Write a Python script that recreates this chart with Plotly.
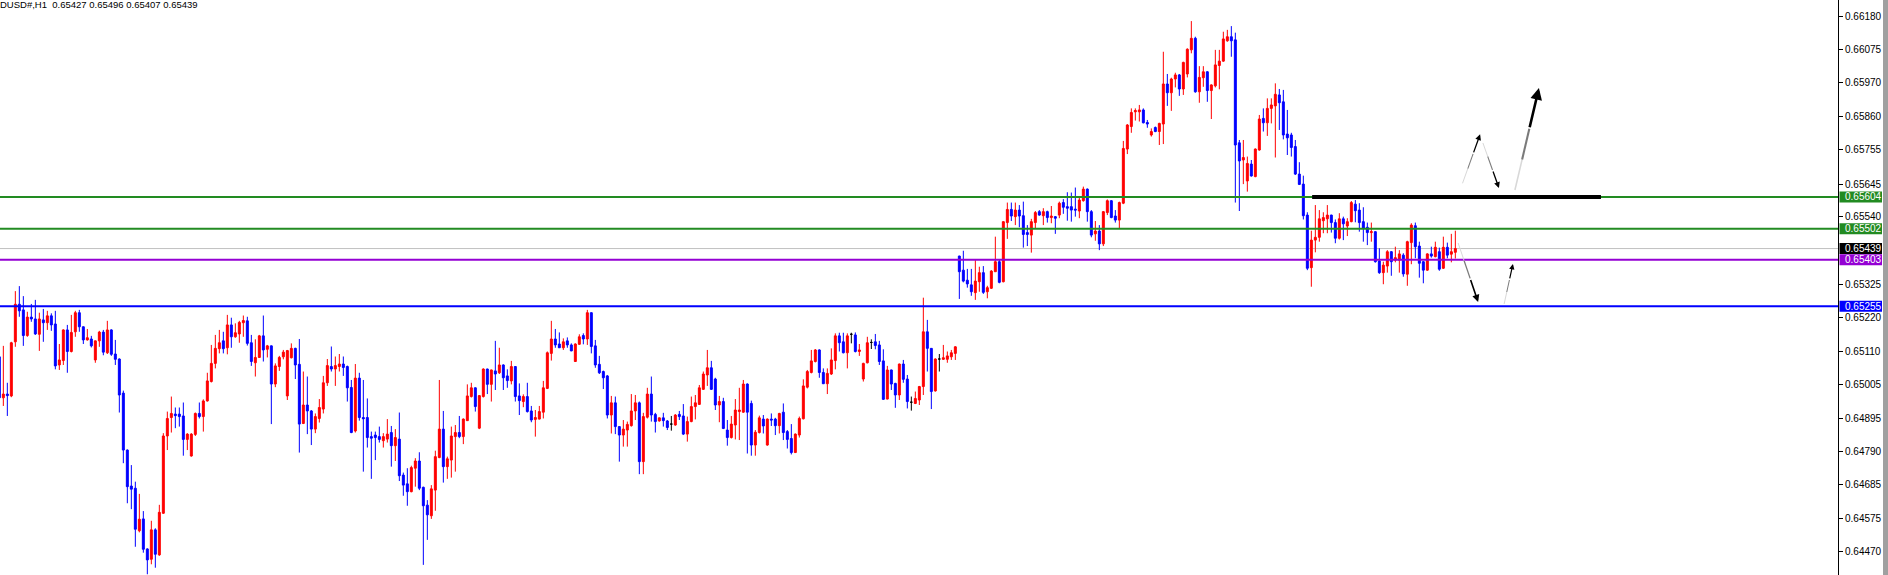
import plotly.graph_objects as go

# ---- OHLC data (prices in points, 1 point = 0.00001) ----
open_pts = [65093,64962,64974,64968,65141,65261,65243,65161,65220,65214,65165,65211,65202,65224,65198,65067,65081,65179,65110,65173,
65234,65189,65147,65150,65083,65144,65172,65106,65179,65102,65086,64977,64795,64680,64673,64537,64575,64479,64446,64540,
64460,64593,64840,64899,64910,64910,64904,64829,64776,64845,64912,64902,64952,65014,65072,65119,65144,65122,65195,65157,
65166,65202,65208,65138,65074,65091,65160,65117,65128,65006,65062,65093,64968,65090,65120,65069,64880,64939,64920,64862,
64896,64926,65010,65062,65054,65062,65070,65062,64995,64856,65025,64899,64899,64838,64843,64838,64825,64830,64851,64809,
64830,64715,64687,64662,64737,64760,64676,64619,64585,64667,64771,64862,64742,64763,64838,64851,64838,64889,64966,64994,
64865,64966,65054,65005,65048,65042,65067,65032,65016,65062,64968,64950,64966,64920,64893,64894,64916,64992,65104,65150,
65134,65122,65144,65131,65078,65133,65161,65150,65234,65128,65069,65046,65032,64907,64946,64870,64843,64859,64873,64920,
64946,64758,64900,64974,64909,64888,64898,64888,64878,64875,64909,64904,64846,64886,64934,64941,64989,65035,65058,65022,
64939,64950,64859,64835,64875,64918,64916,65006,64944,64811,64851,64894,64811,64894,64894,64873,64916,64854,64832,64787,
64843,64895,64996,65043,65078,65115,65043,65007,65038,65081,65160,65141,65106,65165,65163,65110,65022,65074,65139,65141,
65131,65080,64958,65051,65008,64971,65070,65022,64948,64944,64955,64998,65173,65120,64984,65086,65085,65085,65093,65104,
65415,65370,65338,65323,65298,65333,65362,65301,65312,65365,65397,65333,65522,65564,65541,65562,65544,65490,65482,65522,
65557,65544,65557,65538,65541,65546,65586,65573,65573,65565,65559,65592,65629,65557,65486,65495,65454,65554,65592,65543,
65530,65584,65757,65829,65876,65876,65882,65842,65802,65826,65813,65837,65965,65937,65981,65994,65949,65997,66074,66111,
65940,65985,66004,65944,65959,66024,66038,66103,66116,66106,65777,65722,65655,65709,65669,65754,65855,65841,65887,65895,
65930,65908,65805,65802,65765,65677,65645,65546,65378,65466,65475,65528,65534,65546,65522,65472,65534,65511,65525,65581,
65562,65525,65507,65490,65493,65399,65362,65383,65429,65402,65402,65418,65357,65458,65512,65447,65397,65370,65422,65413,
65429,65376,65443,65421,65427]
high_pts = [65095,65128,65010,65141,65303,65319,65287,65237,65262,65275,65234,65246,65240,65232,65240,65134,65181,65195,65227,65240,
65243,65190,65182,65160,65145,65176,65179,65208,65181,65147,65088,64985,64797,64747,64694,64655,64600,64481,64569,64545,
64620,64849,64918,64966,64931,64931,64947,64849,64849,64915,64947,64957,65042,65131,65163,65179,65173,65227,65218,65200,
65208,65225,65221,65163,65149,65163,65225,65131,65129,65072,65096,65115,65115,65136,65122,65150,65046,65030,64923,64912,
64958,65032,65086,65126,65094,65102,65094,65065,65019,65070,65042,65019,64960,64854,64854,64870,64849,64894,64872,64862,
64915,64723,64737,64745,64769,64788,64678,64635,64683,64793,65019,64920,64774,64870,64875,64904,64896,65005,65010,64995,
64971,65056,65055,65052,65144,65122,65069,65053,65080,65063,65008,64973,65010,64936,64923,64936,65016,65110,65208,65182,
65171,65152,65155,65136,65136,65165,65168,65243,65235,65147,65096,65049,65035,64968,64966,64871,64891,64886,64974,64971,
64950,64914,64994,65030,64914,64899,64914,64891,64904,64910,64920,64942,64902,64966,64971,65003,65046,65115,65080,65026,
64968,64962,64891,64904,64958,64994,65019,65008,64953,64859,64905,64907,64896,64912,64898,64914,64944,64859,64878,64848,
64902,65021,65051,65115,65118,65117,65056,65056,65120,65168,65170,65170,65168,65170,65171,65134,65074,65157,65149,65166,
65144,65117,65064,65052,65010,65071,65083,65035,64966,64982,65000,65282,65211,65121,65088,65102,65131,65110,65115,65127,
65416,65432,65374,65374,65402,65381,65383,65320,65370,65477,65405,65526,65586,65586,65586,65578,65589,65514,65534,65559,
65562,65568,65560,65575,65543,65589,65597,65619,65618,65634,65607,65637,65631,65562,65527,65514,65559,65596,65594,65562,
65589,65783,65837,65887,65887,65898,65887,65850,65823,65829,65841,66068,65997,65985,66001,65997,66036,66079,66166,66116,
66022,66022,66006,65964,66074,66074,66132,66138,66150,66129,65786,65786,65733,65722,65759,65866,65887,65919,65919,65967,
65949,65946,65882,65809,65786,65715,65672,65555,65496,65578,65562,65555,65578,65547,65532,65552,65541,65536,65591,65594,
65584,65571,65522,65522,65494,65440,65397,65434,65431,65445,65434,65424,65464,65520,65522,65461,65399,65424,65445,65461,
65442,65477,65458,65486,65496]
low_pts = [64955,64936,64904,64964,65125,65221,65128,65157,65205,65163,65112,65141,65179,65176,65053,65051,65067,65042,65107,65157,
65173,65134,65145,65123,65074,65125,65098,65102,65096,65067,64915,64753,64625,64606,64486,64532,64467,64398,64430,64419,
64457,64591,64795,64851,64865,64870,64777,64795,64774,64840,64896,64854,64950,65011,65056,65104,65104,65101,65122,65154,
65138,65157,65129,65064,65030,65090,65078,65091,64878,64996,65048,65085,64955,65088,65022,64787,64878,64846,64811,64849,
64883,64912,65000,65046,65000,65046,65032,64950,64849,64851,64889,64726,64803,64703,64763,64819,64803,64819,64742,64760,
64696,64649,64617,64660,64678,64667,64428,64508,64575,64601,64769,64691,64703,64707,64726,64833,64814,64888,64963,64918,
64862,64963,64974,64950,64987,65038,64987,64994,65005,64950,64907,64932,64915,64884,64838,64893,64896,64990,65081,65122,
65122,65115,65122,65111,65077,65131,65133,65131,65104,65058,65038,64990,64896,64848,64846,64758,64806,64806,64870,64891,
64718,64718,64896,64886,64851,64886,64870,64859,64857,64873,64891,64843,64822,64884,64893,64939,64987,65000,64987,64923,
64884,64862,64809,64832,64829,64827,64914,64784,64777,64777,64848,64848,64809,64872,64843,64848,64827,64800,64781,64786,
64835,64893,64992,65040,65075,65026,65006,64974,65035,65053,65110,65104,65056,65136,65107,65096,65014,65072,65118,65117,
65067,64955,64957,64987,64930,64955,65010,64928,64921,64942,64939,64971,65046,64926,64982,65046,65083,65074,65083,65083,
65278,65331,65314,65288,65275,65301,65294,65280,65310,65365,65328,65331,65470,65527,65514,65507,65442,65447,65426,65504,
65544,65514,65522,65520,65486,65536,65550,65528,65525,65541,65536,65589,65525,65475,65464,65434,65447,65546,65536,65522,
65504,65581,65741,65809,65848,65845,65839,65825,65797,65811,65770,65773,65895,65879,65954,65927,65930,65986,66063,65937,
65905,65956,65908,65853,65954,65948,66036,66100,66052,65586,65559,65645,65621,65669,65667,65752,65813,65799,65839,65730,
65818,65788,65738,65733,65674,65642,65532,65370,65317,65427,65461,65488,65488,65490,65456,65468,65466,65479,65523,65523,
65493,65461,65450,65461,65394,65358,65325,65362,65352,65395,65362,65349,65320,65389,65408,65346,65328,65368,65410,65411,
65368,65374,65408,65395,65407]
close_pts = [64962,64974,64969,65138,65261,65240,65161,65220,65214,65166,65214,65202,65224,65195,65064,65083,65179,65110,65171,65234,
65189,65147,65154,65128,65144,65172,65108,65179,65101,65085,64971,64795,64678,64670,64542,64574,64478,64444,64540,64462,
64596,64840,64896,64912,64905,64902,64829,64846,64846,64912,64902,64952,65016,65072,65120,65138,65119,65195,65157,65170,
65203,65209,65136,65078,65091,65160,65115,65128,65006,65064,65091,65108,65113,65120,65067,64878,64939,64920,64862,64902,
64931,65010,65065,65054,65065,65070,65059,64994,64851,65025,64899,64895,64835,64833,64835,64829,64838,64846,64809,64835,
64713,64683,64662,64739,64760,64673,64617,64588,64671,64774,64862,64742,64767,64840,64851,64838,64894,64968,64994,64934,
64969,65054,65005,65051,65038,65067,65026,65017,65062,64966,64953,64966,64918,64891,64899,64918,64994,65106,65150,65131,
65122,65141,65131,65112,65134,65157,65150,65234,65126,65067,65042,65026,64907,64946,64870,64843,64862,64877,64920,64946,
64758,64902,64974,64907,64886,64898,64889,64867,64878,64907,64902,64846,64886,64934,64946,64994,65038,65058,64989,64939,
64950,64864,64835,64878,64923,64923,65006,64916,64811,64852,64898,64872,64894,64891,64873,64912,64851,64829,64787,64846,
64896,65000,65046,65080,65115,65043,65007,65040,65083,65160,65138,65106,65160,65165,65110,65115,65072,65138,65139,65129,
65078,64957,65051,65006,64971,65070,65021,64950,64948,64960,64998,65173,65120,64982,65086,65086,65090,65096,65106,65125,
65365,65335,65326,65301,65335,65362,65299,65314,65367,65397,65331,65525,65564,65543,65562,65543,65484,65484,65525,65554,
65546,65557,65538,65543,65536,65584,65571,65568,65562,65562,65594,65629,65557,65482,65495,65454,65557,65592,65538,65530,
65586,65759,65834,65874,65880,65882,65841,65837,65813,65813,65839,65965,65937,65981,65994,65949,66034,66076,66111,65940,
65986,66004,65944,65962,66026,66038,66109,66116,66103,65770,65719,65730,65711,65671,65757,65853,65841,65887,65898,65932,
65905,65802,65793,65762,65677,65644,65544,65376,65466,65475,65534,65538,65546,65522,65472,65534,65518,65525,65586,65560,
65522,65504,65490,65493,65397,65362,65386,65429,65397,65410,65422,65358,65461,65514,65445,65392,65370,65422,65415,65443,
65373,65443,65418,65429,65439]

# ---- axis / annotation values ----
tick_prices = [0.66180, 0.66075, 0.65970, 0.65860, 0.65755, 0.65645, 0.65540,
               0.65325, 0.65220, 0.65110, 0.65005, 0.64895, 0.64790, 0.64685, 0.64575, 0.64470]
level_prices = [0.65604, 0.65502, 0.65403, 0.65255]
level_colors = ["#228B22", "#228B22", "#9400D3", "#0000FF"]
bid_price = 0.65439
header_text = "DUSD#,H1  0.65427 0.65496 0.65407 0.65439"

# thick black resistance segment (bar index from/to, price)
seg_bar_from, seg_bar_to, seg_price = 328.2, 400.4, 0.65604

# hand-drawn arrows: (tail bar, tail price, head bar, head price, width)
arrows = [
    (365.8, 0.656476, 370.2, 0.658042, 1.3),
    (370.9, 0.657764, 374.9, 0.656326, 1.3),
    (378.9, 0.656262, 384.9, 0.659522, 2.6),
    (364.7, 0.654568, 369.7, 0.652682, 1.6),
    (376.2, 0.652618, 378.4, 0.653897, 1.2),
]

Y_MIN, Y_MAX = 0.643957, 0.662334
X_MIN, X_MAX = 0.1667, 459.667

n = len(close_pts)
bars = list(range(n))
o = [v / 1e5 for v in open_pts]
h = [v / 1e5 for v in high_pts]
l = [v / 1e5 for v in low_pts]
c = [v / 1e5 for v in close_pts]

main_idx = [i for i in bars if open_pts[i] != close_pts[i]]
doji_idx = [i for i in bars if open_pts[i] == close_pts[i]]

def pick(arr, idx):
    return [arr[i] for i in idx]

fig = go.Figure()
fig.add_trace(go.Candlestick(
    x=main_idx, open=pick(o, main_idx), high=pick(h, main_idx),
    low=pick(l, main_idx), close=pick(c, main_idx),
    increasing=dict(line=dict(color="#FF0000", width=1), fillcolor="#FF0000"),
    decreasing=dict(line=dict(color="#0000FF", width=1), fillcolor="#0000FF"),
    whiskerwidth=0, hoverinfo="skip", showlegend=False,
))
fig.add_trace(go.Candlestick(
    x=doji_idx, open=pick(o, doji_idx), high=pick(h, doji_idx),
    low=pick(l, doji_idx), close=pick(c, doji_idx),
    increasing=dict(line=dict(color="#000000", width=1), fillcolor="#000000"),
    decreasing=dict(line=dict(color="#000000", width=1), fillcolor="#000000"),
    whiskerwidth=0, hoverinfo="skip", showlegend=False,
))

shapes = []
annotations = []
AX_PX = 1838.0
def px(xpix):
    return xpix / AX_PX

# horizontal level lines
for p, col in zip(level_prices, level_colors):
    shapes.append(dict(type="line", xref="paper", yref="y", x0=0, x1=1, y0=p, y1=p,
                       line=dict(color=col, width=2), layer="above"))
shapes.append(dict(type="line", xref="paper", yref="y", x0=0, x1=1, y0=bid_price, y1=bid_price,
                   line=dict(color="#C0C0C0", width=1), layer="below"))
# black thick segment
shapes.append(dict(type="line", xref="x", yref="y", x0=seg_bar_from, x1=seg_bar_to,
                   y0=seg_price, y1=seg_price, line=dict(color="#000000", width=4), layer="above"))

# arrows with faded tails
for tx, ty, hx, hy, w in arrows:
    mx1, my1 = tx + (hx - tx) * 0.3, ty + (hy - ty) * 0.3
    mx2, my2 = tx + (hx - tx) * 0.6, ty + (hy - ty) * 0.6
    shapes.append(dict(type="line", xref="x", yref="y", x0=tx, y0=ty, x1=mx1, y1=my1,
                       line=dict(color="#d8d8d8", width=max(1, w * 0.6)), layer="above"))
    shapes.append(dict(type="line", xref="x", yref="y", x0=mx1, y0=my1, x1=mx2, y1=my2,
                       line=dict(color="#7a7a7a", width=max(1, w * 0.8)), layer="above"))
    annotations.append(dict(x=hx, y=hy, ax=mx2, ay=my2, xref="x", yref="y", axref="x", ayref="y",
                            text="", showarrow=True, arrowhead=2, arrowsize=0.9, arrowwidth=w,
                            arrowcolor="#000000", standoff=0, startstandoff=0))

# price label boxes on the right axis
label_items = [(p, col) for p, col in zip(level_prices, level_colors)] + [(bid_price, "#000000")]
for p, col in label_items:
    shapes.append(dict(type="rect", xref="paper", yref="y", x0=px(1839.5), x1=px(1882),
                       ysizemode="pixel", yanchor=p, y0=-5.5, y1=5.5,
                       fillcolor=col, line=dict(width=0), layer="above"))
    annotations.append(dict(x=px(1843), y=p, xref="paper", yref="y", xanchor="left", yanchor="middle",
                            text="%.5f" % p, showarrow=False,
                            font=dict(family="Liberation Sans, Arial, sans-serif", size=10, color="#FFFFFF")))

# right-edge grey frame strip
shapes.append(dict(type="rect", xref="paper", yref="paper", x0=px(1883), x1=px(1888), y0=0, y1=1,
                   fillcolor="#A0A0A0", line=dict(width=0)))

# header text at the very top-left corner
annotations.append(dict(x=0, y=1, xref="paper", yref="paper", xanchor="left", yanchor="top",
                        yshift=2, xshift=-1, borderpad=0, text=header_text, showarrow=False,
                        font=dict(family="Liberation Sans, Arial, sans-serif", size=9.5, color="#000000")))

fig.update_layout(
    width=1888, height=575,
    margin=dict(l=0, r=50, t=0, b=0),
    paper_bgcolor="#FFFFFF", plot_bgcolor="#FFFFFF",
    showlegend=False, hovermode=False,
    boxgap=0.3, boxgroupgap=0.3,
    shapes=shapes, annotations=annotations,
    xaxis=dict(range=[X_MIN, X_MAX], visible=False, showgrid=False, zeroline=False,
               rangeslider=dict(visible=False), fixedrange=True),
    yaxis=dict(range=[Y_MIN, Y_MAX], side="right", showgrid=False, zeroline=False,
               showline=True, linecolor="#000000", linewidth=1,
               ticks="outside", ticklen=4, tickcolor="#000000", tickwidth=1,
               tickvals=tick_prices, ticktext=["%.5f" % t for t in tick_prices],
               tickfont=dict(family="Liberation Sans, Arial, sans-serif", size=10, color="#000000"),
               fixedrange=True),
)

fig.write_html("out.html", config={"displayModeBar": False},
               post_script="document.body.style.margin='0';document.body.style.overflow='hidden';")
